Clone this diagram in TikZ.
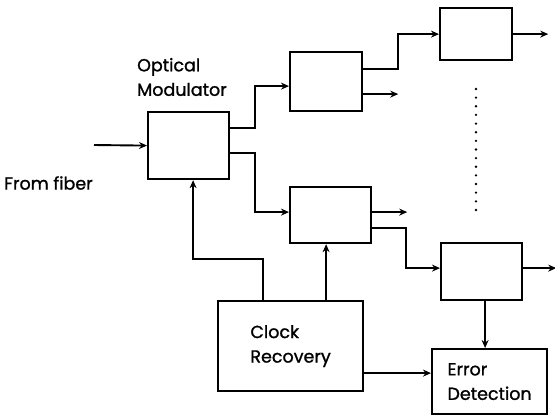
\documentclass[tikz,border=0pt]{standalone}
\usepackage{fontspec}
\setmainfont{Poppins}[FakeBold=1.2]
\usetikzlibrary{arrows.meta,calc}
\begin{document}
\begin{tikzpicture}[x=1pt,y=-1pt,
  box/.style={draw,line width=2.2pt,minimum width=#1,anchor=north west,inner sep=0pt},
  arr/.style={line width=1.9pt,-{Stealth[length=8pt,width=7pt]}},
  lbl/.style={font=\fontsize{17.5}{24.5}\selectfont,align=left}]
\useasboundingbox (0,0) rectangle (555,416);
\node[box=81pt,minimum height=67pt] (mod) at (147,111) {};
\node[box=72pt,minimum height=59pt] (b2) at (289,51) {};
\node[box=81pt,minimum height=56pt] (b3) at (289,186) {};
\node[box=72pt,minimum height=52pt] (b4) at (439,7) {};
\node[box=81pt,minimum height=57pt] (b5) at (440,242) {};
\node[box=145pt,minimum height=90pt,lbl] (clk) at (217,300) {Clock\\Recovery};
\node[box=115pt,minimum height=65pt,lbl] (err) at (431,348) {Error\\Detection};
\node[lbl,anchor=west,inner sep=0pt] (optl) at (137,77) {Optical\\Modulator};
\node[lbl,anchor=west,inner sep=0pt] (fib) at (4,183) {From fiber};
\coordinate (in) at (94,145);
\draw[arr] (in) -- (mod.west);
\draw[arr] ([yshift=17.5pt]mod.east) -- ++(25pt,0) |- ([yshift=-4.5pt]b2.west);
\draw[arr] ([yshift=-7.5pt]mod.east) -- ++(25pt,0) |- ([yshift=3pt]b3.west);
\draw[arr] ([yshift=12.5pt]b2.east) -- ++(35pt,0) |- (b4.west);
\draw[arr] ([yshift=-12.5pt]b2.east) -- ++(35pt,0) coordinate (o2);
\draw[arr] (b4.east) -- ++(35pt,0) coordinate (o4);
\draw[arr] ([yshift=3pt]b3.east) -- ++(35pt,0) coordinate (o3);
\draw[arr] ([yshift=-13pt]b3.east) -- ++(34pt,0) |- ([yshift=3.5pt]b5.west);
\draw[arr] ([yshift=3.5pt]b5.east) -- ++(33pt,0) coordinate (o5);
\draw[arr] ([xshift=3.5pt]b5.south) -- ([xshift=3.5pt]b5.south |- err.north);
\draw[arr] ([xshift=35.5pt]clk.north) -- ([xshift=35.5pt]clk.north |- b3.south);
\draw[arr] ([xshift=-27.5pt]clk.north) -- ++(0,41pt) -| ([xshift=4.5pt]mod.south);
\draw[arr] ([yshift=-27pt]clk.east) -- ([yshift=-27pt]clk.east -| err.west);
\foreach \i in {0,...,14} \fill (476,89+8.64*\i) circle (1.3pt);
\end{tikzpicture}
\end{document}
